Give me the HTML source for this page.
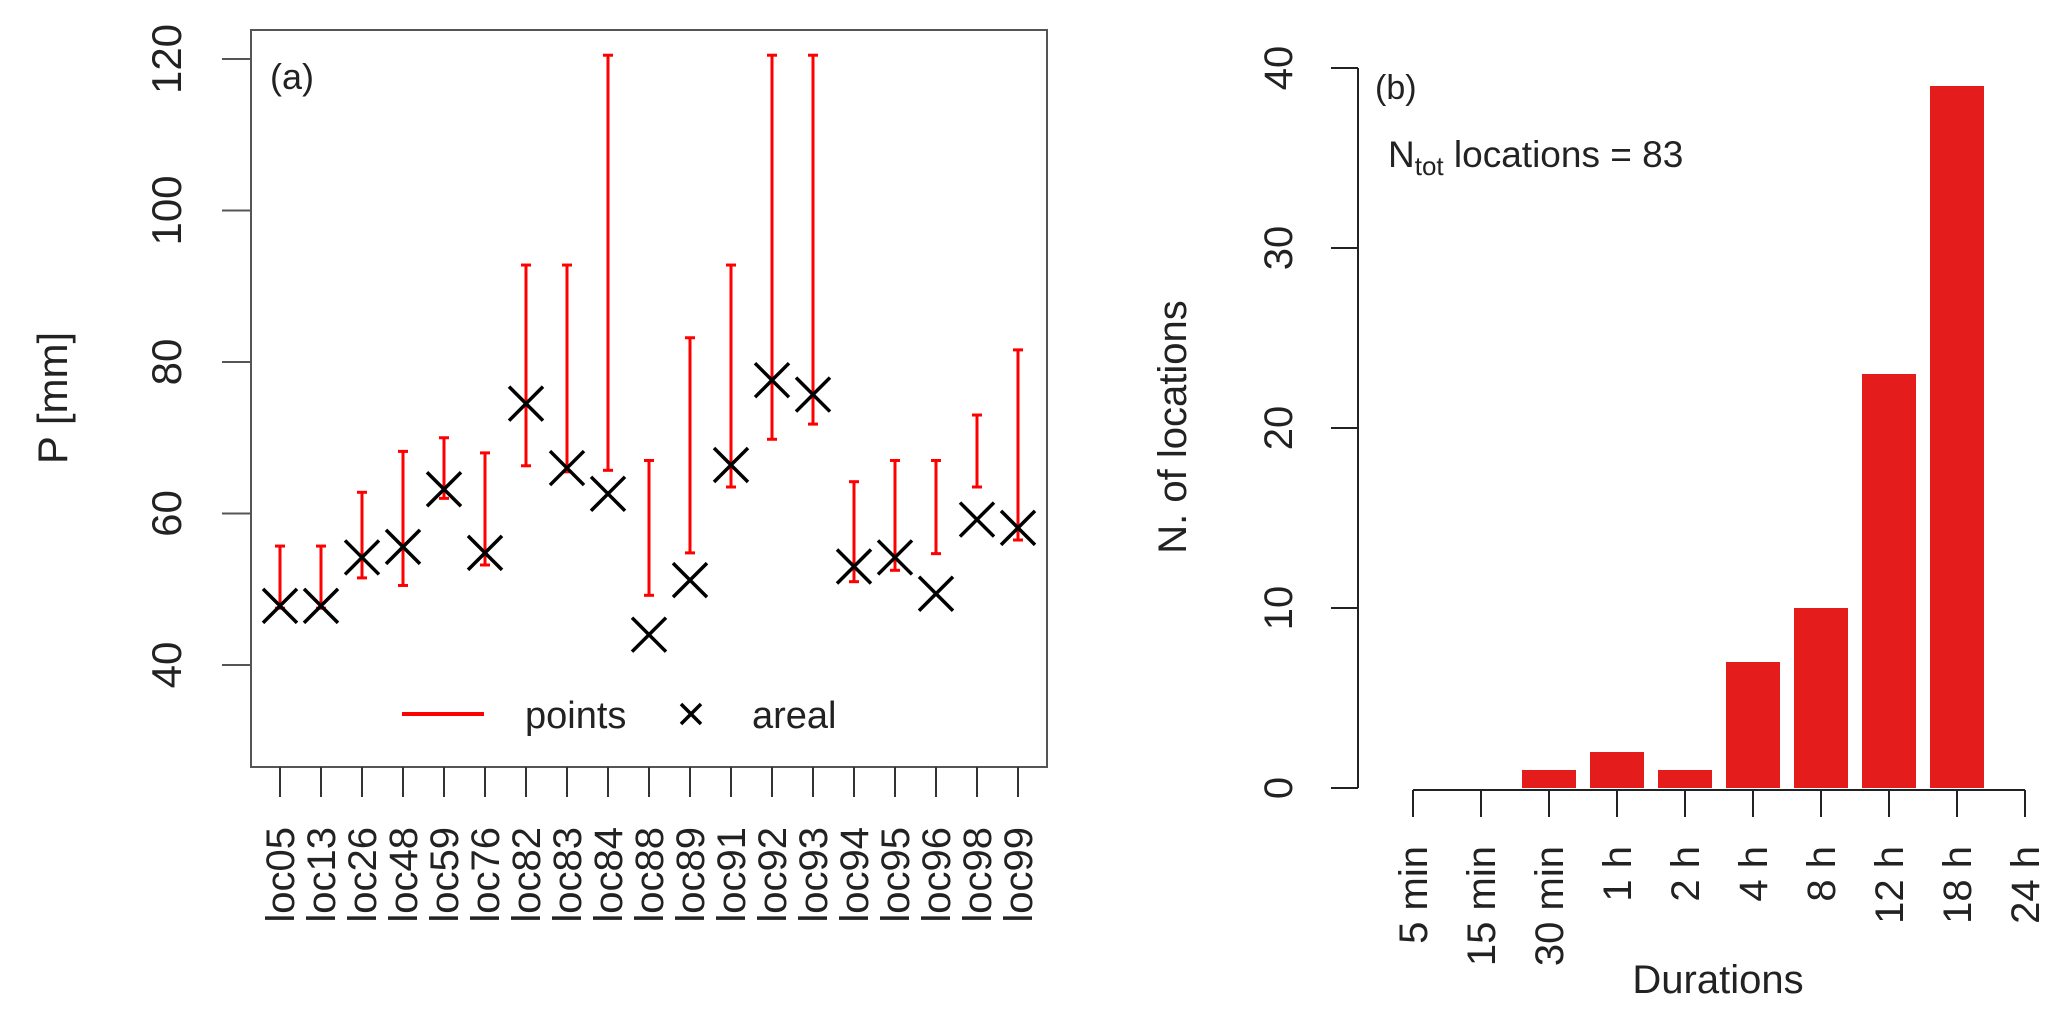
<!DOCTYPE html>
<html><head><meta charset="utf-8"><style>
html,body{margin:0;padding:0;background:#fff;}
svg{display:block;font-family:"Liberation Sans",Arial,sans-serif;}
</style></head><body>
<svg id="chart" width="2067" height="1012" viewBox="0 0 2067 1012" xmlns="http://www.w3.org/2000/svg"></svg>
<script>
// Panel (a) data
const locNames = ["loc05","loc13","loc26","loc48","loc59","loc76","loc82","loc83","loc84","loc88","loc89","loc91","loc92","loc93","loc94","loc95","loc96","loc98","loc99"];
const pointsLow  = [47.5,47.5,51.5,50.5,62.0,53.2,66.3,65.5,65.7,49.2,54.8,63.5,69.8,71.8,51.0,52.5,54.7,63.5,56.5];
const pointsHigh = [55.7,55.7,62.8,68.2,70.0,68.0,92.8,92.8,120.5,67.0,83.2,92.8,120.5,120.5,64.2,67.0,67.0,73.0,81.6];
const arealVals  = [47.8,47.8,54.2,55.6,63.2,54.8,74.5,66.0,62.6,44.0,51.2,66.4,77.6,75.7,53.0,54.2,49.4,59.2,58.1];
const yTicksA = [40,60,80,100,120];
// Panel (b) data
const durations = ["5 min","15 min","30 min","1 h","2 h","4 h","8 h","12 h","18 h","24 h"];
const counts = [0,0,1,2,1,7,10,23,39];
const yTicksB = [0,10,20,30,40];

const svg = document.getElementById('chart');
const NS = 'http://www.w3.org/2000/svg';
function mk(tag, attrs, parent){
  const e = document.createElementNS(NS, tag);
  for (const k in attrs) e.setAttribute(k, attrs[k]);
  (parent||svg).appendChild(e);
  return e;
}
// ---- Panel (a) ----
const ga = mk('g', {});


const yA = v => 665 - (v - 40) * 151.5 / 20;
const xA = i => 280 + i * 41;
const box = mk('rect', {x:251, y:30, width:796, height:737, fill:'none', stroke:'#555', 'stroke-width':2}, ga);


yTicksA.forEach(t => {
  const l = mk('line', {x1:222, x2:251, y1:yA(t), y2:yA(t), stroke:'#555', 'stroke-width':2}, ga);
  
  
  const tx = mk('text', {x:0, y:0, 'font-size':42, 'text-anchor':'middle', fill:'#222', transform:`translate(181,${yA(t)}) rotate(-90)`}, ga);
  tx.textContent = t;
  
  
});
const yl = mk('text', {x:0, y:0, 'font-size':42, 'text-anchor':'middle', fill:'#222', transform:'translate(67,398) rotate(-90)'}, ga);
yl.textContent = 'P [mm]';


const pa = mk('text', {x:270, y:89, 'font-size':36, fill:'#222'}, ga);
pa.textContent = '(a)';


locNames.forEach((n, i) => {
  const x = xA(i);
  const tk = mk('line', {x1:x, x2:x, y1:767, y2:797, stroke:'#333', 'stroke-width':2}, ga);
  
  
  const lb = mk('text', {x:0, y:0, 'font-size':40, 'text-anchor':'end', fill:'#222', transform:`translate(${x+14},827) rotate(-90)`}, ga);
  lb.textContent = n;
  
  
  const g = mk('g', {stroke:'#ff0000', 'stroke-width':3}, ga);
  
  
  mk('line', {x1:x, x2:x, y1:yA(pointsLow[i]), y2:yA(pointsHigh[i])}, g);
  mk('line', {x1:x-5, x2:x+5, y1:yA(pointsLow[i]), y2:yA(pointsLow[i])}, g);
  mk('line', {x1:x-5, x2:x+5, y1:yA(pointsHigh[i]), y2:yA(pointsHigh[i])}, g);
  const ya = yA(arealVals[i]);
  const m = mk('path', {d:`M${x-17},${ya-17}L${x+17},${ya+17}M${x-17},${ya+17}L${x+17},${ya-17}`, stroke:'#000', 'stroke-width':3.5, fill:'none'}, ga);
  
  
});
// legend
const lg = mk('g', {}, ga);


mk('line', {x1:402, x2:484, y1:714, y2:714, stroke:'#ff0000', 'stroke-width':4}, lg);
const lt1 = mk('text', {x:525, y:728, 'font-size':38, fill:'#222'}, lg);
lt1.textContent = 'points';


mk('path', {d:'M681,704L701,724M681,724L701,704', stroke:'#000', 'stroke-width':3.5}, lg);
const lt2 = mk('text', {x:752, y:728, 'font-size':38, fill:'#222'}, lg);
lt2.textContent = 'areal';



// ---- Panel (b) ----
const gb = mk('g', {});


const yB = v => 788 - v * 18;
const xB = i => 1413 + i * 68;
const ax = mk('line', {x1:1358, x2:1358, y1:yB(0), y2:yB(40), stroke:'#222', 'stroke-width':2}, gb);


yTicksB.forEach(t => {
  const l = mk('line', {x1:1331, x2:1358, y1:yB(t), y2:yB(t), stroke:'#222', 'stroke-width':2}, gb);
  
  
  const tx = mk('text', {x:0, y:0, 'font-size':40, 'text-anchor':'middle', fill:'#222', transform:`translate(1292,${yB(t)}) rotate(-90)`}, gb);
  tx.textContent = t;
  
  
});
const ylb = mk('text', {x:0, y:0, 'font-size':40, 'text-anchor':'middle', fill:'#222', transform:'translate(1186,427) rotate(-90)'}, gb);
ylb.textContent = 'N. of locations';


counts.forEach((c, i) => {
  const cx = xB(i);
  const r = mk('rect', {x:cx-27, y:yB(c), width:54, height:c*18, fill:'#e41c1c'}, gb);
  
  
});
const xa = mk('line', {x1:xB(0), x2:xB(durations.length-1), y1:790, y2:790, stroke:'#222', 'stroke-width':2}, gb);


durations.forEach((d, i) => {
  const x = xB(i);
  const tk = mk('line', {x1:x, x2:x, y1:790, y2:817, stroke:'#222', 'stroke-width':2}, gb);
  
  
  const lb = mk('text', {x:0, y:0, 'font-size':40, 'text-anchor':'end', fill:'#222', transform:`translate(${x+14},846) rotate(-90)`}, gb);
  lb.textContent = d;
  
  
});
const xt = mk('text', {x:1718, y:993, 'font-size':40, 'text-anchor':'middle', fill:'#222'}, gb);
xt.textContent = 'Durations';


const pb = mk('text', {x:1375, y:99, 'font-size':34, fill:'#222'}, gb);
pb.textContent = '(b)';


const nt = mk('text', {x:1388, y:167, 'font-size':37, fill:'#222'}, gb);


nt.innerHTML = 'N<tspan font-size="26" dy="8">tot</tspan><tspan dy="-8"> locations = 83</tspan>';
</script>
</body></html>
